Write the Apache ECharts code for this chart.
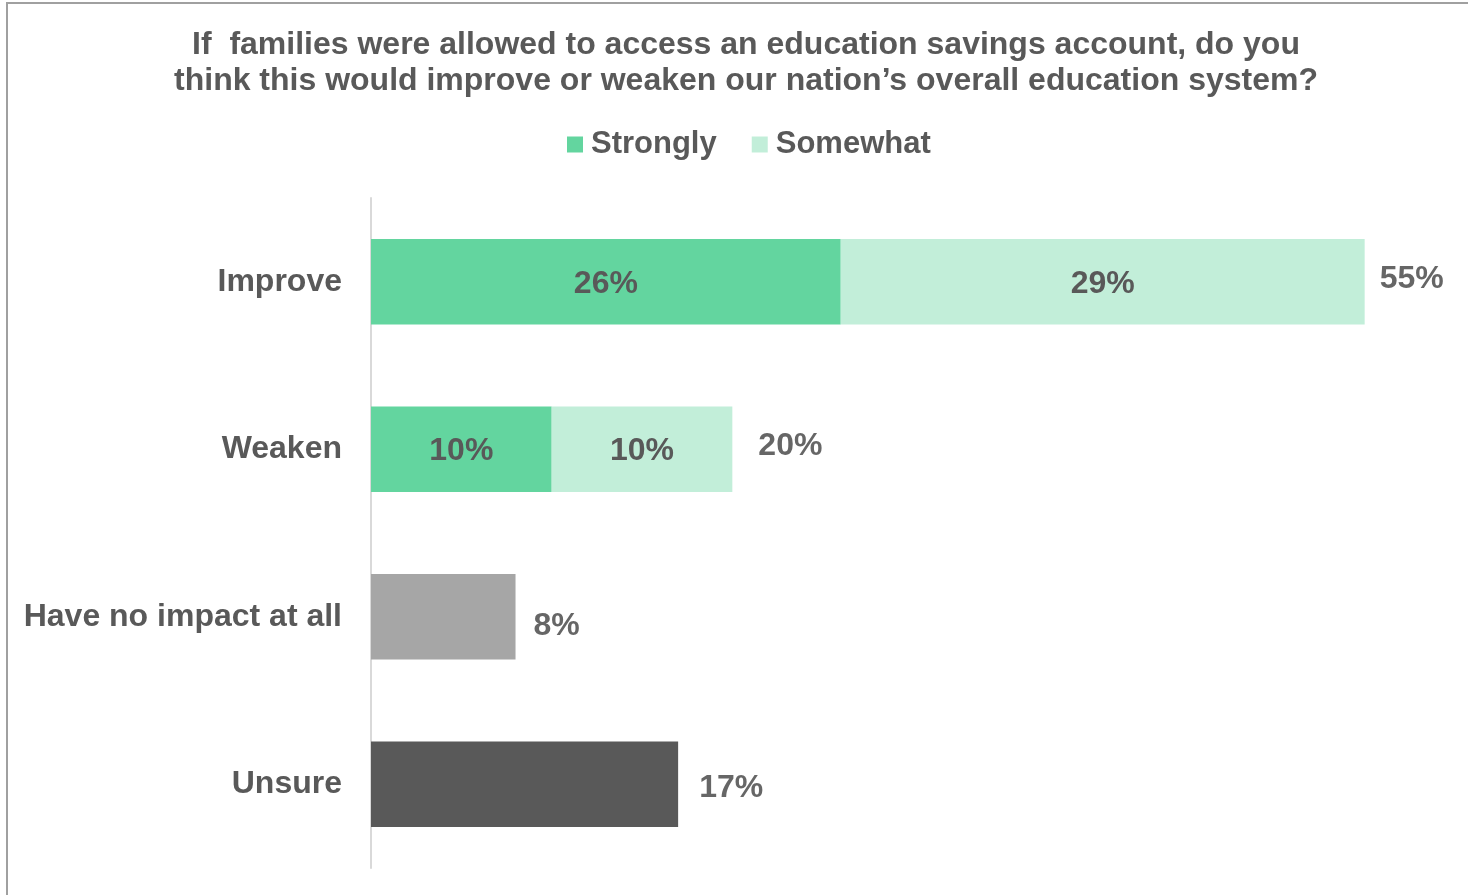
<!DOCTYPE html>
<html>
<head>
<meta charset="utf-8">
<title>Education savings account</title>
<script src="https://cdn.jsdelivr.net/npm/echarts@6/dist/echarts.min.js"></script>
<style>
  html, body { margin: 0; padding: 0; background: #ffffff; }
  #chart { width: 1468px; height: 895px; }
</style>
</head>
<body>
<div id="chart"></div>
<script>
// Survey responses, percent of respondents
const categories = ['Improve', 'Weaken', 'Have no impact at all', 'Unsure'];
const strongly = [26, 10, null, null];
const somewhat = [29, 10, null, null];
const single = [null, null, 8, 17];
const singleColors = ['#A6A6A6', '#595959'];

const FONT = '"Liberation Sans", Arial, sans-serif';
const TEXT = '#595959';
const DARK = '#404040';

// Nudges for the total labels, in pixels, one per row
const totalNudge = [[-3, -3], [8, -3], [0, 9], [3, 4]];

// Bar totals shown to the right of each row
const totals = categories.map((c, i) =>
  (strongly[i] || 0) + (somewhat[i] || 0) + (single[i] || 0));

const chart = echarts.init(document.getElementById('chart'), null, { renderer: 'canvas' });

const innerLabel = {
  show: true,
  position: 'inside',
  formatter: p => p.value + '%',
  fontFamily: FONT,
  fontSize: 32,
  fontWeight: 'bold',
  color: TEXT,
  offset: [0, 2]
};

chart.setOption({
  animation: false,
  backgroundColor: '#ffffff',
  textStyle: { fontFamily: FONT },
  graphic: [{
    type: 'rect',
    shape: { x: 7, y: 3, width: 1500, height: 960 },
    style: { fill: 'none', stroke: '#A0A0A0', lineWidth: 2 },
    silent: true
  }],
  title: {
    text: 'If  families were allowed to access an education savings account, do you\nthink this would improve or weaken our nation\u2019s overall education system?',
    left: 741,
    textAlign: 'center',
    top: 22,
    textStyle: {
      fontFamily: FONT,
      fontSize: 32,
      fontWeight: 'bold',
      color: TEXT,
      lineHeight: 36
    }
  },
  legend: {
    data: ['Strongly', 'Somewhat'],
    left: 562,
    top: 124,
    icon: 'rect',
    itemWidth: 16,
    itemHeight: 16,
    itemGap: 35,
    textStyle: {
      fontFamily: FONT,
      fontSize: 31,
      fontWeight: 'bold',
      color: TEXT,
      padding: [0, 0, 0, 3]
    }
  },
  grid: {
    left: 371,
    top: 198,
    width: 1084,
    height: 670,
    containLabel: false
  },
  xAxis: {
    type: 'value',
    min: 0,
    max: 60,
    show: false,
    splitLine: { show: false }
  },
  yAxis: {
    type: 'category',
    data: categories,
    inverse: true,
    axisLine: { show: true, lineStyle: { color: '#D9D9D9', width: 2 } },
    axisTick: { show: false },
    axisLabel: {
      margin: 29,
      fontFamily: FONT,
      fontSize: 32,
      fontWeight: 'bold',
      color: TEXT
    }
  },
  series: [
    {
      name: 'Strongly',
      type: 'bar',
      stack: 'total',
      data: strongly,
      barCategoryGap: '49%',
      itemStyle: { color: '#63D59F' },
      label: innerLabel
    },
    {
      name: 'Somewhat',
      type: 'bar',
      stack: 'total',
      data: somewhat,
      itemStyle: { color: '#C2EED9' },
      label: innerLabel
    },
    {
      name: 'Overall',
      type: 'bar',
      stack: 'total',
      data: single,
      itemStyle: {
        color: p => singleColors[p.dataIndex - 2] || '#A6A6A6'
      },
      label: { show: false }
    },
    {
      name: 'Total',
      type: 'scatter',
      symbolSize: 0,
      silent: true,
      data: totals.map((v, i) => ({
        value: [v, categories[i]],
        label: { offset: totalNudge[i] }
      })),
      label: {
        show: true,
        position: 'right',
        distance: 18,
        formatter: p => p.value[0] + '%',
        fontFamily: FONT,
        fontSize: 32,
        fontWeight: 'bold',
        color: DARK
      }
    }
  ]
});
</script>
</body>
</html>
